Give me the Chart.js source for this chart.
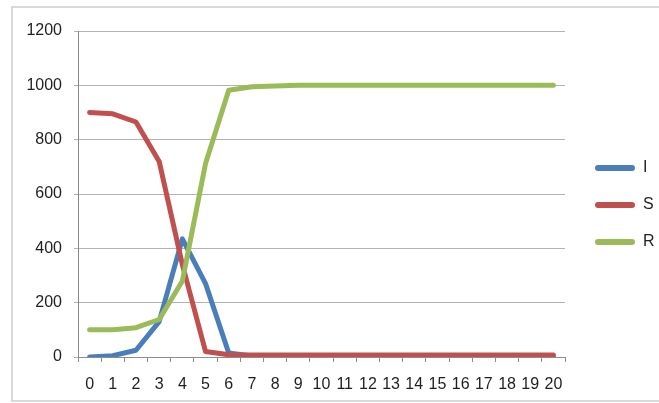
<!DOCTYPE html>
<html>
<head>
<meta charset="utf-8">
<script src="https://cdn.jsdelivr.net/npm/chart.js@4/dist/chart.umd.min.js"></script>
<style>
  html, body { margin: 0; padding: 0; background: #ffffff; }
  #wrap { position: relative; width: 659px; height: 403px; overflow: hidden; }
  #frame { position: absolute; left: 11px; top: 6px; width: 700px; height: 392px; border: 2px solid #d9d9d9; }
  #c { position: absolute; left: 0; top: 0; }
</style>
</head>
<body>
<div id="wrap">
  <div id="frame"></div>
  <canvas id="c" width="659" height="403"></canvas>
</div>
<script>
// ---- data ----
const categories = ["0","1","2","3","4","5","6","7","8","9","10","11","12","13","14","15","16","17","18","19","20"];
const seriesI = [0, 5, 25, 130, 435, 270, 15, 4, 1, 0, 0, 0, 0, 0, 0, 0, 0, 0, 0, 0, 0];
const seriesS = [900, 895, 865, 720, 340, 20, 8, 7, 7, 7, 7, 7, 7, 7, 7, 7, 7, 7, 7, 7, 7];
const seriesR = [100, 100, 108, 138, 280, 712, 982, 995, 998, 1000, 1000, 1000, 1000, 1000, 1000, 1000, 1000, 1000, 1000, 1000, 1000];
const yTicks = [0, 200, 400, 600, 800, 1000, 1200];

const FONT = "'Liberation Sans', Arial, sans-serif";
const TXT = '#1f1f1f';

function lineDs(label, data, color, order) {
  return {
    label, data, order,
    borderColor: color, backgroundColor: color,
    borderWidth: 5, pointRadius: 0, pointHoverRadius: 0,
    tension: 0, borderCapStyle: 'round', borderJoinStyle: 'round', fill: false
  };
}

// place the legend block like the reference (x of first swatch, y of first item)
const shiftLegend = {
  id: 'shiftLegend',
  afterLayout(chart) {
    const lg = chart.legend;
    if (!lg) return;
    const dx = 595 - (chart.chartArea.right + lg.options.labels.padding);
    lg.left += dx; lg.right += dx;
    const dy = -12;
    lg.top += dy; lg.bottom += dy;
  }
};

new Chart(document.getElementById('c'), {
  type: 'line',
  data: {
    labels: categories,
    datasets: [
      lineDs('I', seriesI, '#4a7ebb', 3),
      lineDs('S', seriesS, '#c0504d', 2),
      lineDs('R', seriesR, '#9bbb59', 1)
    ]
  },
  options: {
    responsive: false,
    animation: false,
    layout: { padding: { left: 0, top: 31, right: 14, bottom: 0 } },
    plugins: {
      tooltip: { enabled: false },
      legend: {
        position: 'right',
        align: 'center',
        maxWidth: 80,
        labels: {
          boxWidth: 40,
          boxHeight: 6,
          padding: 21,
          color: TXT,
          font: { family: FONT, size: 16 },
          useBorderRadius: true,
          borderRadius: 3,
          sort: (a, b) => a.datasetIndex - b.datasetIndex,
          generateLabels(chart) {
            return Chart.defaults.plugins.legend.labels.generateLabels(chart).map(l => Object.assign(l, { lineWidth: 0 }));
          }
        }
      }
    },
    scales: {
      x: {
        type: 'category',
        offset: true,
        afterFit(s) { s.height = 46; },
        grid: { display: true, drawOnChartArea: false, drawTicks: true, tickLength: 5, offset: true, color: '#8c8c8c' },
        border: { display: true, color: '#8c8c8c', width: 1 },
        ticks: { color: TXT, font: { family: FONT, size: 16 }, padding: 13, maxRotation: 0, autoSkip: false }
      },
      y: {
        min: 0, max: 1200,
        afterFit(s) { s.width = 78; },
        afterBuildTicks(s) { s.ticks = yTicks.map(v => ({ value: v })); },
        grid: { color: '#b3b3b3', lineWidth: 1, drawTicks: true, tickLength: 4 },
        border: { display: true, color: '#8c8c8c', width: 1 },
        ticks: { color: TXT, font: { family: FONT, size: 16 }, padding: 12, callback: v => String(v) }
      }
    }
  },
  plugins: [shiftLegend]
});
</script>
</body>
</html>
